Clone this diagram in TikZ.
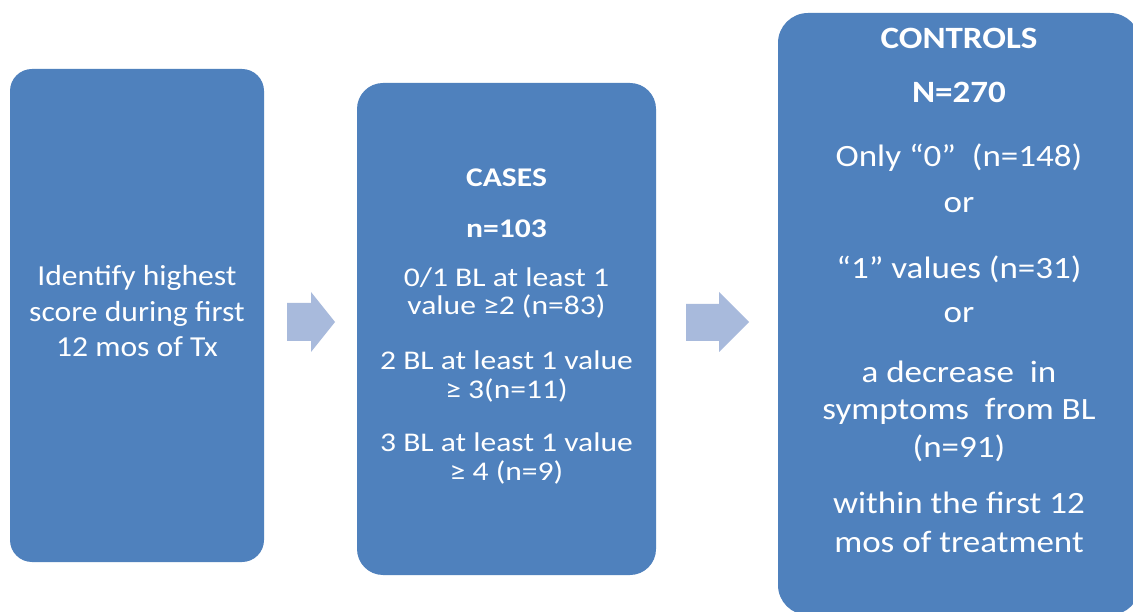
\documentclass[tikz,border=0pt]{standalone}
\usepackage{fontspec}
\setmainfont{Carlito}[FakeStretch=1.17]
\newfontfamily\fontboxone{Carlito}[FakeStretch=1.09]
\newfontfamily\fontboxthree{Carlito}[FakeStretch=1.13]
\definecolor{boxblue}{HTML}{4F81BD}
\definecolor{arrowblue}{HTML}{A8BADC}
\begin{document}
\begin{tikzpicture}[x=1pt,y=-1pt,
  box/.style={fill=boxblue, draw=none, inner sep=0pt, rectangle},
  txtO/.style={anchor=base, text=white, inner sep=0pt, font=\fontboxone\fontsize{29}{34}\selectfont},
  txtA/.style={anchor=base, text=white, inner sep=0pt, font=\fontsize{27}{28}\selectfont},
  txtB/.style={anchor=base, text=white, inner sep=0pt, font=\fontboxthree\fontsize{31}{36}\selectfont},
  blockarrow/.style={fill=arrowblue, draw=none}]
\useasboundingbox (0,0) rectangle (1133,612);
\fill[white] (0,0) rectangle (1133,612);
\begin{scope}
\clip (0,0) rectangle (1133,612);
% boxes
\node[box, rounded corners=22pt, minimum width=254pt, minimum height=493pt] (b1) at (137,315.5) {};
\node[box, rounded corners=26pt, minimum width=299pt, minimum height=492pt] (b2) at (506.5,329) {};
\node[box, rounded corners=30pt, minimum width=362pt, minimum height=602pt] (b3) at (959,314) {};
% block arrows
\fill[blockarrow] (287,303) -- (311,303) -- (311,292) -- (335,322) -- (311,352) -- (311,341) -- (287,341) -- cycle;
\fill[blockarrow] (686,304) -- (719,304) -- (719,292) -- (749,322) -- (719,352) -- (719,341) -- (686,341) -- cycle;
% box 1 text
\node[txtO] (t1a) at (137,286) {Identify highest};
\node[txtO] (t1b) at (137,322) {score during first};
\node[txtO] (t1c) at (137,357) {12 mos of Tx};
% box 2 text
\node[txtA] (t2a) at (506.5,187) {\bfseries CASES};
\node[txtA] (t2b) at (506.5,238) {\bfseries n=103};
\node[txtA] (t2c) at (506.5,287) {0/1 BL at least 1};
\node[txtA] (t2d) at (506.5,315) {value ≥2 (n=83)};
\node[txtA] (t2e) at (506.5,370) {2 BL at least 1 value};
\node[txtA] (t2f) at (506.5,399) {≥ 3(n=11)};
\node[txtA] (t2g) at (506.5,451) {3 BL at least 1 value};
\node[txtA] (t2h) at (506.5,480) {≥ 4 (n=9)};
% box 3 text
\node[txtB] (t3a) at (959,49) {\bfseries CONTROLS};
\node[txtB] (t3b) at (959,103) {\bfseries N=270};
\node[txtB] (t3c) at (959,167) {Only “0”\ \ (n=148)};
\node[txtB] (t3d) at (959,213) {or};
\node[txtB] (t3e) at (959,279) {“1” values (n=31)};
\node[txtB] (t3f) at (959,323) {or};
\node[txtB] (t3g) at (959,382) {a decrease\ \ in};
\node[txtB] (t3h) at (959,419) {symptoms\ \ from BL};
\node[txtB] (t3i) at (959,457) {(n=91)};
\node[txtB] (t3j) at (959,513) {within the first 12};
\node[txtB] (t3k) at (959,552) {mos of treatment};
\end{scope}
\end{tikzpicture}
\end{document}
